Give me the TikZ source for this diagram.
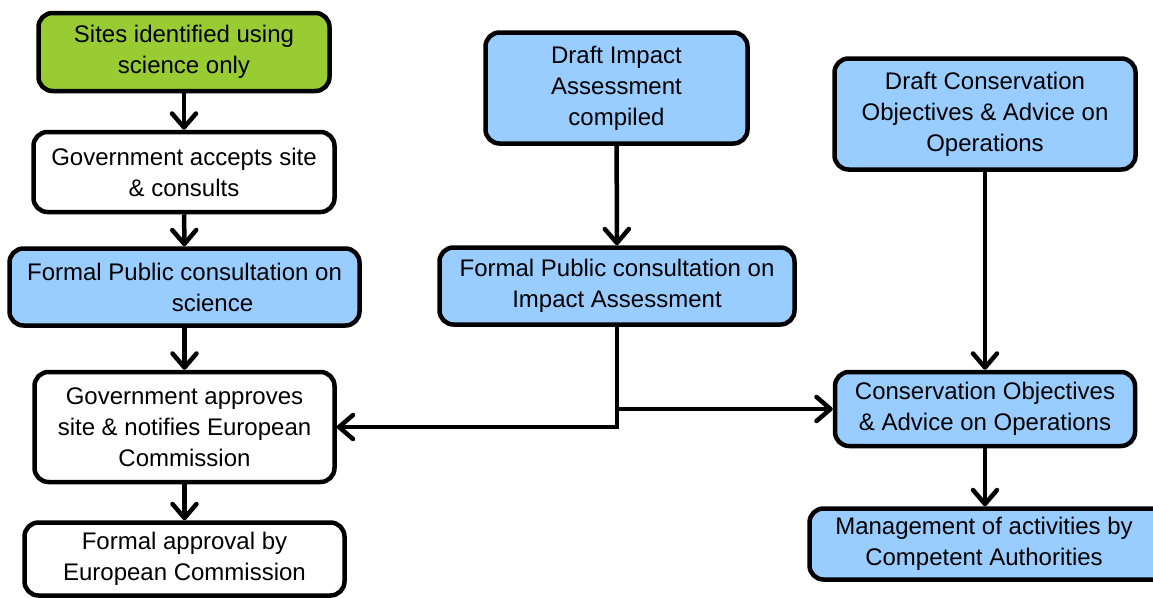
\documentclass[tikz,border=0pt]{standalone}
\usepackage{fontspec}
\setmainfont{Liberation Sans}
\usepackage{xcolor}
\usepackage{tikz}
\usetikzlibrary{calc, arrows.meta}

\definecolor{sitegreen}{HTML}{99CC33}
\definecolor{stepblue}{HTML}{99CCFF}

\tikzset{
    box/.style={rectangle, rounded corners=14pt, draw=black, line width=4.5pt, align=center,
        font=\fontsize{24}{31}\selectfont, inner sep=2pt},
    flow/.style={line width=4.5pt, -{Straight Barb[length=14pt, width=24pt, line cap=round, line join=round]}}
}

\begin{document}
\begin{tikzpicture}[x=1pt, y=-1pt]

        \useasboundingbox (0,0) rectangle (1153,597);

        %% Science route
        \node (sites) [box, fill=sitegreen, minimum width=291pt, minimum height=78pt] at (184,52) {Sites identified using\\science only};
        \node (accepts) [box, fill=white, minimum width=301pt, minimum height=80pt] at (184,172) {Government accepts site\\\& consults};
        \node (consultsci) [box, fill=stepblue, minimum width=350pt, minimum height=77pt] at (184.5,287) {Formal Public consultation on\\\hspace*{56pt}science};
        \node (approves) [box, fill=white, minimum width=300pt, minimum height=110pt] at (184.5,427) {Government approves\\site \& notifies European\\Commission};
        \node (ecapproval) [box, fill=white, minimum width=320pt, minimum height=73pt] at (184.5,559) {Formal approval by\\European Commission};

        %% Impact Assessment
        \node (draftia) [box, fill=stepblue, minimum width=262pt, minimum height=111pt] at (616.5,88) {Draft Impact\\Assessment\\compiled};
        \node (consultia) [box, fill=stepblue, minimum width=355pt, minimum height=77pt] at (617,286) {Formal Public consultation on\\Impact Assessment};

        %% Conservation Objectives
        \node (draftco) [box, fill=stepblue, minimum width=301pt, minimum height=111pt] at (985,114) {Draft Conservation\\Objectives \& Advice on\\Operations};
        \node (consobj) [box, fill=stepblue, minimum width=300pt, minimum height=74pt] at (985,409) {Conservation Objectives\\\& Advice on Operations};
        \node (manage) [box, fill=stepblue, minimum width=361pt, minimum height=71pt] at (990,544) {Management of activities by\hspace*{12pt}\\Competent Authorities\hspace*{12pt}};

        %% Arrows
        \draw [flow] (sites) -- (accepts);
        \draw [flow] (accepts) -- (consultsci);
        \draw [flow] (consultsci) -- (approves);
        \draw [flow] (approves) -- (ecapproval);
        \draw [flow] (draftia) -- (consultia);
        \draw [flow] (draftco) -- (consobj);
        \draw [flow] (consobj) -- (manage.north -| consobj.south);

        %% split after the IA consultation
        \draw [flow] (consultia.south) |- (approves.east);
        \draw [flow] (consultia.south |- consobj.west) -- (consobj.west);

    \end{tikzpicture}
\end{document}
